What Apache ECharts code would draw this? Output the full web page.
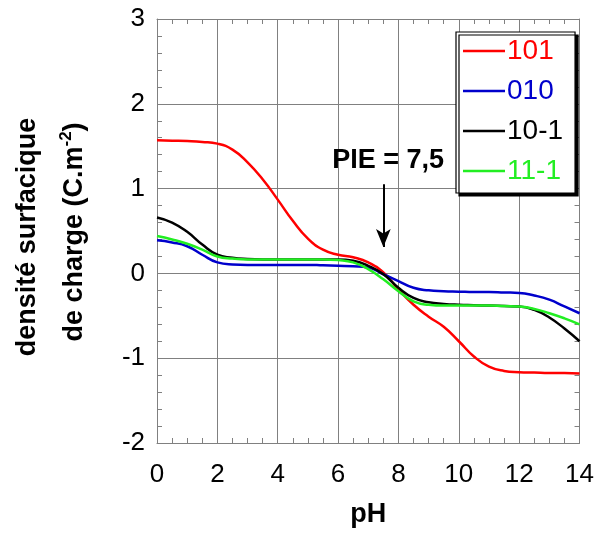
<!DOCTYPE html>
<html>
<head>
<meta charset="utf-8">
<script src="https://cdn.jsdelivr.net/npm/echarts@6/dist/echarts.min.js"></script>
<style>html,body{margin:0;padding:0;background:#fff}#c{width:597px;height:533px}</style>
</head>
<body>
<div id="c"></div>
<script>
const pH = [0,0.5,1,1.5,2,2.5,3,3.5,4,4.5,5,5.5,6,6.5,7,7.5,8,8.5,9,9.5,10,10.5,11,11.5,12,12.5,13,13.5,14];
const s101 = [1.57,1.565,1.56,1.55,1.53,1.46,1.31,1.11,0.87,0.62,0.41,0.28,0.22,0.19,0.13,0.01,-0.19,-0.37,-0.51,-0.63,-0.8,-0.98,-1.1,-1.15,-1.165,-1.17,-1.175,-1.175,-1.18];
const s010 = [0.39,0.365,0.32,0.22,0.13,0.105,0.1,0.1,0.1,0.1,0.1,0.095,0.09,0.085,0.07,-0.01,-0.09,-0.17,-0.2,-0.21,-0.215,-0.22,-0.22,-0.225,-0.23,-0.26,-0.31,-0.39,-0.47];
const s10m1 = [0.66,0.6,0.49,0.34,0.22,0.185,0.17,0.165,0.165,0.165,0.165,0.165,0.165,0.15,0.09,-0.01,-0.17,-0.29,-0.34,-0.36,-0.37,-0.375,-0.38,-0.385,-0.39,-0.43,-0.52,-0.65,-0.8];
const s11m1 = [0.44,0.4,0.35,0.28,0.2,0.175,0.165,0.165,0.165,0.165,0.165,0.165,0.157,0.13,0.05,-0.07,-0.21,-0.33,-0.37,-0.38,-0.38,-0.38,-0.38,-0.385,-0.39,-0.42,-0.47,-0.53,-0.6];
const seriesNames = ['101','010','10-1','11-1'];
const seriesColors = ['#ff0000','#0000cc','#000000','#22ee22'];
const xTicks = {min:0, max:14, interval:2};
const yTicks = {min:-2, max:3, interval:1};
const pie = {x:7.5, yTop:1.05, yTip:0.31, label:'PIE = 7,5', labelX:7.66, labelY:1.335};

const FONT = "'Liberation Sans', Arial, sans-serif";
const zip = a => pH.map((x,i)=>[x,a[i]]);
const allData = [s101, s010, s10m1, s11m1];

const chart = echarts.init(document.getElementById('c'), null, {renderer:'canvas'});
const gray = '#808080';
const baseX = {type:'value', min:xTicks.min, max:xTicks.max, interval:xTicks.interval};
const baseY = {type:'value', min:yTicks.min, max:yTicks.max, interval:yTicks.interval};
const tick = {show:true, inside:true, length:5, lineStyle:{color:gray}};
const aLine = {show:true, onZero:false, lineStyle:{color:gray, width:1}};

const series = seriesNames.map((n,i)=>({
  name:n, type:'line', data:zip(allData[i]), smooth:0.5, symbol:'none',
  lineStyle:{color:seriesColors[i], width:2.5}, itemStyle:{color:seriesColors[i]}, z:2+i
}));
series.push({
  type:'line', data:[], symbol:'none', silent:true,
  markLine:{
    silent:true, symbol:['none','arrow'], symbolSize:[11,18],
    lineStyle:{color:'#000', width:2, type:'solid'}, label:{show:false},
    data:[[{coord:[pie.x,pie.yTop]},{coord:[pie.x,pie.yTip]}]]
  },
  markPoint:{
    silent:true, symbol:'circle', symbolSize:0,
    label:{show:true, position:'inside', formatter:pie.label, color:'#000', fontSize:27, fontWeight:'bold', fontFamily:FONT},
    data:[{coord:[pie.labelX,pie.labelY]}]
  }
});

chart.setOption({
  animation:false,
  backgroundColor:'#fff',
  grid:{left:157, right:16, top:19, bottom:90},
  xAxis:[
    Object.assign({}, baseX, {position:'bottom',
      name:'pH', nameLocation:'middle', nameGap:58,
      nameTextStyle:{fontSize:27, fontWeight:'bold', color:'#000', fontFamily:FONT},
      axisLine:aLine,
      axisTick:tick, minorTick:{show:true, splitNumber:4, length:5, lineStyle:{color:gray}},
      axisLabel:{fontSize:26, color:'#000', margin:19, fontFamily:FONT},
      splitLine:{show:true, lineStyle:{color:gray, width:1}}}),
    Object.assign({}, baseX, {position:'top',
      axisLine:aLine,
      axisTick:tick, minorTick:{show:true, splitNumber:4, length:5, lineStyle:{color:gray}},
      axisLabel:{show:false}, splitLine:{show:false}})
  ],
  yAxis:[
    Object.assign({}, baseY, {position:'left',
      axisLine:aLine,
      axisTick:tick, minorTick:{show:true, splitNumber:5, length:5, lineStyle:{color:gray}},
      axisLabel:{fontSize:26, color:'#000', margin:12, fontFamily:FONT},
      splitLine:{show:true, lineStyle:{color:gray, width:1}}}),
    Object.assign({}, baseY, {position:'right',
      axisLine:aLine,
      axisTick:tick, minorTick:{show:true, splitNumber:5, length:5, lineStyle:{color:gray}},
      axisLabel:{show:false}, splitLine:{show:false}})
  ],
  legend:{
    orient:'vertical', left:456, top:32,
    padding:[4,12,7,7], itemGap:10, itemWidth:42, itemHeight:2.5, icon:'rect',
    backgroundColor:'#fff', borderColor:'#000', borderWidth:1.2, borderRadius:0,
    shadowColor:'#000', shadowBlur:0, shadowOffsetX:3, shadowOffsetY:3,
    textStyle:{fontSize:28, lineHeight:30, fontFamily:FONT, padding:[0,0,0,-3]},
    data:seriesNames.map((n,i)=>({name:n, textStyle:{color:seriesColors[i]}}))
  },
  graphic:[
    {type:'text', x:28, y:237, rotation:Math.PI/2,
      style:{text:'densité surfacique', fontSize:27, fontWeight:'bold', fontFamily:FONT, fill:'#000', align:'center', verticalAlign:'middle'}},
    {type:'text', x:73, y:232, rotation:Math.PI/2,
      style:{text:'{a|de charge (C.m}{s|-2}{a|)}', fontFamily:FONT, fill:'#000', align:'center', verticalAlign:'middle',
        rich:{a:{fontSize:27, fontWeight:'bold', fontFamily:FONT, lineHeight:30, verticalAlign:'bottom'},
              s:{fontSize:17, fontWeight:'bold', fontFamily:FONT, lineHeight:30, verticalAlign:'top'}}}}
  ],
  series:series
});
</script>
</body>
</html>
